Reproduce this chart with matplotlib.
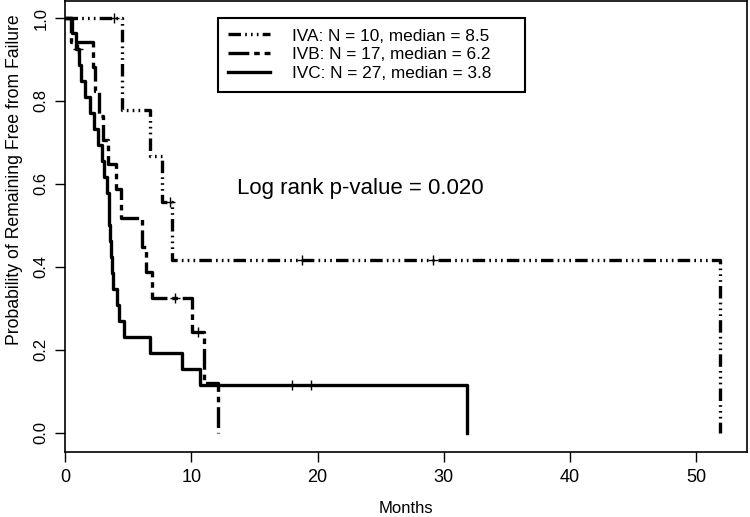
import matplotlib
matplotlib.use("Agg")
import matplotlib.pyplot as plt
from matplotlib import font_manager

# Kaplan-Meier steps (months, survival)
iva_time = [0, 4.55, 6.75, 7.65, 8.45, 51.9]
iva_surv = [1.0, 0.778, 0.667, 0.556, 0.417, 0.0]
iva_cens_time = [3.9, 8.3, 18.8, 29.1]
iva_cens_surv = [1.0, 0.556, 0.417, 0.417]

ivb_time = [0, 0.5, 2.2, 2.4, 2.7, 3.0, 3.4, 4.0, 4.4, 6.1, 6.45, 6.85, 10.05, 11.0, 12.1]
ivb_surv = [1.0, 0.941, 0.882, 0.824, 0.765, 0.706, 0.647, 0.588, 0.518, 0.448, 0.388,
            0.325, 0.244, 0.12, 0.0]
ivb_cens_time = [8.7, 10.5]
ivb_cens_surv = [0.325, 0.244]

ivc_time = [0, 0.55, 0.9, 1.1, 1.3, 1.6, 2.0, 2.3, 2.6, 2.9, 3.1, 3.3, 3.45, 3.5, 3.6,
            3.65, 3.7, 3.8, 4.1, 4.3, 4.7, 6.7, 9.26, 10.7, 31.8]
ivc_surv = [1.0, 0.963, 0.926, 0.887, 0.849, 0.810, 0.772, 0.733, 0.695, 0.656, 0.617,
            0.579, 0.540, 0.502, 0.463, 0.424, 0.386, 0.347, 0.309, 0.270, 0.232, 0.193,
            0.154, 0.116, 0.0]
ivc_cens_time = [1.0, 18.0, 19.5]
ivc_cens_surv = [0.926, 0.116, 0.116]

labels = ["IVA: N = 10, median = 8.5", "IVB: N = 17, median = 6.2", "IVC: N = 27, median = 3.8"]
xticks = [0, 10, 20, 30, 40, 50]
yticks = [0.0, 0.2, 0.4, 0.6, 0.8, 1.0]

names = {f.name for f in font_manager.fontManager.ttflist}
narrow = "Liberation Sans Narrow" if "Liberation Sans Narrow" in names else "Liberation Sans"
plt.rcParams['font.family'] = ['Liberation Sans', 'DejaVu Sans']
plt.rcParams['lines.scale_dashes'] = False

fig = plt.figure(figsize=(7.5, 5.17), dpi=100)
ax = fig.add_axes([65/750, 65/517, 682/750, 451/517])

lw = 2.4
dash_a = (0, (9, 3, 1.2, 3, 1.2, 3, 1.2, 3))
dash_b = (0, (15, 3.5, 4, 3.5))

ax.step(iva_time, iva_surv, where='post', color='black', lw=lw, linestyle=dash_a, label=labels[0])
ax.step(ivb_time, ivb_surv, where='post', color='black', lw=lw, linestyle=dash_b, label=labels[1])
ax.step(ivc_time, ivc_surv, where='post', color='black', lw=lw, linestyle='-', label=labels[2])

for t, s in [(iva_cens_time, iva_cens_surv), (ivb_cens_time, ivb_cens_surv), (ivc_cens_time, ivc_cens_surv)]:
    ax.plot(t, s, linestyle='none', marker='+', color='black', ms=7, mew=1)

ax.set_xlim(0, 54)
ax.set_ylim(-0.046, 1.041)
ax.set_xticks(xticks)
ax.set_yticks(yticks)
ax.set_xticklabels([str(v) for v in xticks], fontfamily=narrow, fontsize=13)
ax.set_yticklabels(["%.1f" % v for v in yticks], fontsize=12, rotation=90, va='center')
ax.tick_params(length=7, width=1, pad=5)
for sp in ax.spines.values():
    sp.set_linewidth(1.2)

ax.set_xlabel("Months", fontfamily=narrow, fontsize=12, labelpad=11)
ax.set_ylabel("Probability of Remaining Free from Failure", fontsize=12.7)
ax.yaxis.set_label_coords(-0.062, 0.603)

ax.text(0.4326, 0.585, "Log rank p-value = 0.020", transform=ax.transAxes, fontsize=16,
        ha='center', va='center')

leg = ax.legend(loc='upper left', bbox_to_anchor=(0.2243, 0.802, 0.45, 0.16), mode='expand',
                borderaxespad=0, fancybox=False, edgecolor='black', fontsize=12.4,
                handlelength=2.4, labelspacing=0.22, borderpad=0.6, handletextpad=1.3,
                framealpha=1)
leg.get_frame().set_linewidth(1.5)

fig.savefig("out.png", dpi=100)
